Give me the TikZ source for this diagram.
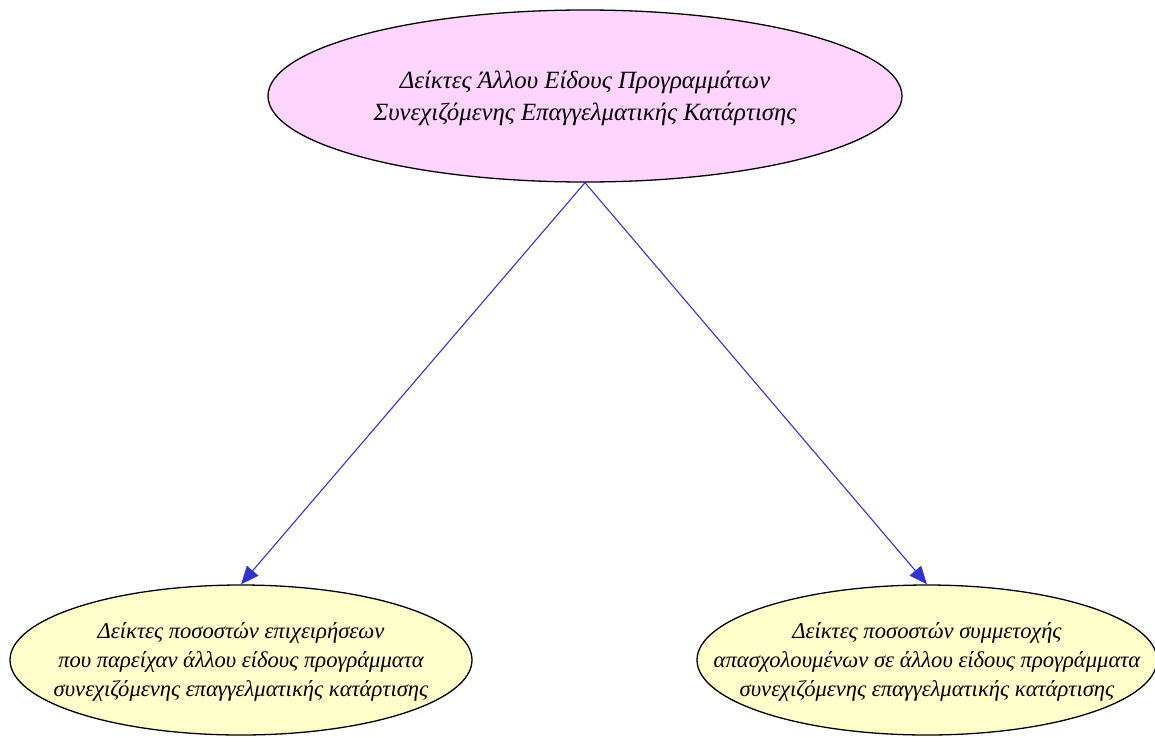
\documentclass[tikz,border=0pt]{standalone}
\usepackage{fontspec}
\setmainfont{Liberation Serif}
\usetikzlibrary{shapes.geometric,arrows.meta}
\definecolor{topfill}{HTML}{FFD5FF}
\definecolor{leaffill}{HTML}{FFFFCC}
\definecolor{edgeblue}{HTML}{3333CC}
\begin{document}
\begin{tikzpicture}[x=1pt,y=-1pt,
  blob/.style={ellipse,draw=black,line width=1.3pt,inner sep=0pt},
  toptext/.style={align=center,inner sep=0pt,font=\itshape\fontsize{24.8}{32}\selectfont},
  leaftext/.style={align=center,inner sep=0pt,font=\itshape\fontsize{22.6}{29}\selectfont},
  link/.style={draw=edgeblue,line width=1.1pt,-{Triangle[length=18pt,width=15pt]}}]
\useasboundingbox (0,0) rectangle (1155,736);
\node[blob,fill=topfill,minimum width=634pt,minimum height=172pt] (top) at (585,96) {};
\node[toptext] (toplabel) at (585,98)
  {Δείκτες Άλλου Είδους Προγραμμάτων\\Συνεχιζόμενης Επαγγελματικής Κατάρτισης};
\node[blob,fill=leaffill,minimum width=462pt,minimum height=150pt] (left) at (241,660) {};
\node[leaftext] (leftlabel) at (241,662)
  {Δείκτες ποσοστών επιχειρήσεων\\που παρείχαν άλλου είδους προγράμματα\\συνεχιζόμενης επαγγελματικής κατάρτισης};
\node[blob,fill=leaffill,minimum width=460pt,minimum height=150pt] (right) at (927,660) {};
\node[leaftext] (rightlabel) at (927,662)
  {Δείκτες ποσοστών συμμετοχής\\απασχολουμένων σε άλλου είδους προγράμματα\\συνεχιζόμενης επαγγελματικής κατάρτισης};
\draw[link] (top.south) -- (left.north);
\draw[link] (top.south) -- (right.north);
\end{tikzpicture}
\end{document}
